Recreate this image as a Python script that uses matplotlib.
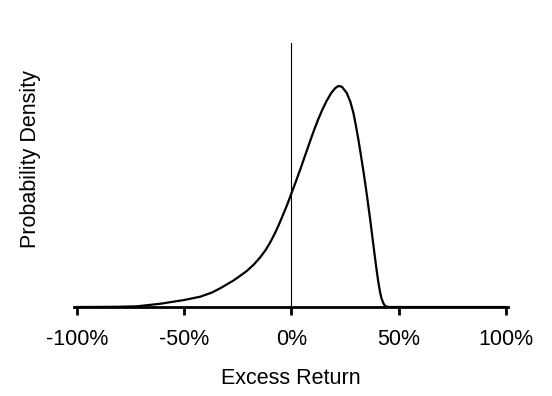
import matplotlib
matplotlib.use("Agg")
import matplotlib.pyplot as plt
from matplotlib.ticker import FuncFormatter

plt.rcParams['font.family'] = ['Liberation Sans', 'DejaVu Sans']

# Excess return (%) and probability density (arbitrary units)
excess_return = [-100, -90, -80, -72, -61, -50, -42.5, -37, -33.2, -27, -24, -20.8, -17.5,
                 -14.6, -12, -9.9, -7.5, -5.3, -2.1, 0, 2, 4, 6.5, 8.7, 10.5, 12.6,
                 14.5, 16.5, 18.5, 20.4, 21.9, 23.5, 25.8, 27.5, 28.9, 30, 31.2, 32.3,
                 33.5, 34.3, 35.1, 36.7, 37.5, 38.2, 39, 39.8, 40.5, 41.3, 42, 42.9,
                 43.5, 44.4, 45.5, 60, 80, 100]
density = [0.0, 0.001, 0.003, 0.007, 0.033, 0.07, 0.103, 0.145, 0.187, 0.265, 0.31, 0.36, 0.425,
           0.495, 0.57, 0.645, 0.745, 0.85, 1.015, 1.135, 1.25, 1.368, 1.522, 1.657, 1.766, 1.882,
           1.977, 2.064, 2.138, 2.188, 2.21, 2.203, 2.14, 2.05, 1.94, 1.82, 1.675, 1.53,
           1.365, 1.25, 1.13, 0.875, 0.74, 0.62, 0.485, 0.355, 0.25, 0.15, 0.085, 0.035,
           0.015, 0.004, 0.0, 0.0, 0.0, 0.0]
x_ticks = [-100, -50, 0, 50, 100]

fig = plt.figure(figsize=(5.52, 3.96), dpi=100)
ax = fig.add_axes([0.134, 0.2247, 0.787, 0.666])

ax.plot(excess_return, density, color='black', lw=1.6, solid_joinstyle='round',
        solid_capstyle='round')
ax.axvline(0, color='black', lw=0.8)

ax.set_xlim(-101.3, 101.1)
ax.set_ylim(0, 2.637)
ax.set_xticks(x_ticks)
ax.xaxis.set_major_formatter(FuncFormatter(lambda v, p: f"{int(v)}%"))
ax.set_yticks([])
for s in ['top', 'right', 'left']:
    ax.spines[s].set_visible(False)
ax.spines['bottom'].set_linewidth(2)
ax.tick_params(axis='x', direction='out', length=6, width=2, labelsize=15.5, pad=10)

ax.set_xlabel('Excess Return', fontsize=15.5, labelpad=13)
fig.text(0.0555, 0.598, 'Probability Density', rotation=90, fontsize=15.5,
         ha='center', va='center')

fig.savefig('out.png', dpi=100)
